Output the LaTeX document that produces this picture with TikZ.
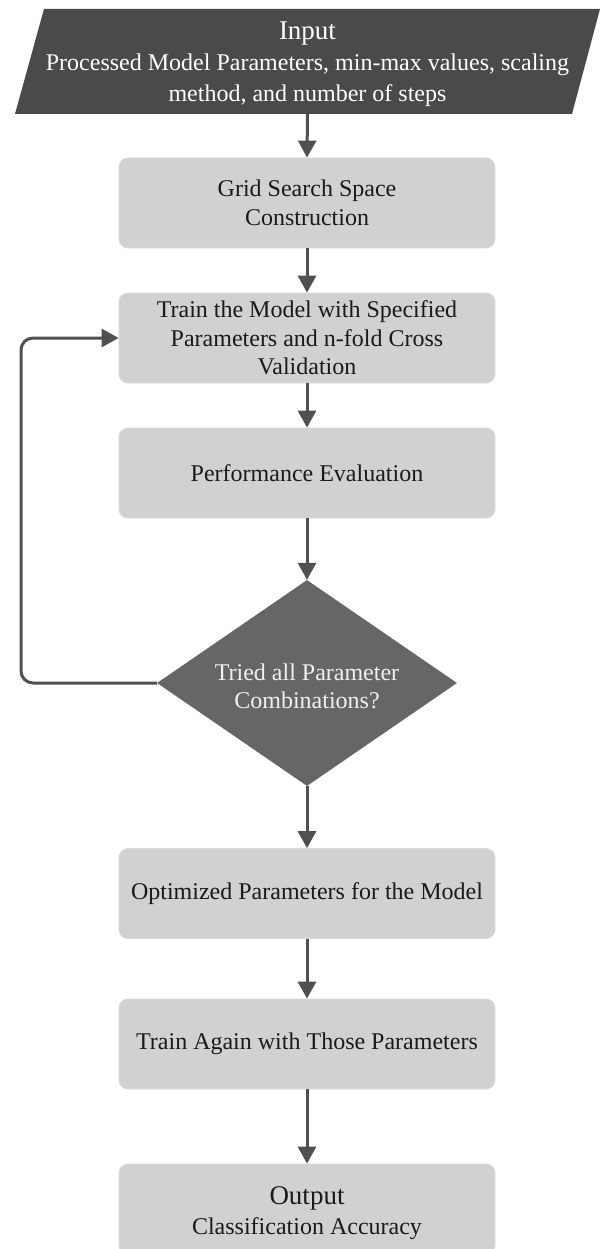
\documentclass[tikz,border=0pt]{standalone}
\usepackage{fontspec}
\setmainfont{Liberation Serif}
\usetikzlibrary{shapes.geometric,arrows.meta}

\definecolor{darkfill}{HTML}{4A4A4A}
\definecolor{decfill}{HTML}{666666}
\definecolor{boxfill}{HTML}{D1D1D1}
\definecolor{boxedge}{HTML}{DADADA}
\definecolor{arrowcol}{HTML}{505050}
\definecolor{inktext}{HTML}{1A1A1A}

\tikzset{
  stepbox/.style={rectangle, rounded corners=9pt, fill=boxfill, draw=boxedge,
    line width=0.8pt, minimum width=376pt, minimum height=90pt,
    inner sep=0pt, align=center, text=inktext,
    font=\fontsize{24}{28.5}\selectfont},
  decision/.style={diamond, fill=decfill, draw=none, minimum width=300pt,
    minimum height=206pt, inner sep=0pt},
  flow/.style={draw=arrowcol, line width=3pt,
    -{Triangle[length=17pt,width=18pt]}},
}

\begin{document}
\begin{tikzpicture}[x=1pt,y=-1pt]
\useasboundingbox (0,0) rectangle (607,1249);

% input parallelogram
\fill[darkfill] (44,9) -- (600,9) -- (572,114) -- (15,114) -- cycle;
\node[rectangle, minimum width=500pt, minimum height=99pt, inner sep=0pt,
      align=center, text=white, font=\fontsize{24}{31}\selectfont]
  (input) at (307.5,64.5)
  {{\fontsize{27}{31}\selectfont Input}\\
   Processed Model Parameters, min-max values, scaling\\
   method, and number of steps};

% process steps
\node[stepbox] (grid)  at (307,203)  {Grid Search Space\\Construction};
\node[stepbox] (train) at (307,338)  {Train the Model with Specified\\Parameters and n-fold Cross\\Validation};
\node[stepbox] (perf)  at (307,473)  {Performance Evaluation};

% decision
\node[decision] (dec) at (307,683) {};
\node[align=center, text=white!94!black, font=\fontsize{24}{28}\selectfont]
  (dectext) at ([yshift=-3pt]dec.center) {Tried all Parameter\\Combinations?};

\node[stepbox] (opt)   at (307,893.5) {Optimized Parameters for the Model};
\node[stepbox] (again) at (307,1044)  {Train Again with Those Parameters};
\node[stepbox] (out)   at (307,1209)  {};
\node[align=center, text=inktext, inner sep=0pt,
      font=\fontsize{24}{30}\selectfont]
  (outtext) at ([yshift=-4pt]out.center)
  {{\fontsize{27}{30}\selectfont Output}\\
   Classification Accuracy};

% connectors
\draw[flow] (input.south) -- (grid.north);
\draw[flow] (grid.south)  -- (train.north);
\draw[flow] (train.south) -- (perf.north);
\draw[flow] (perf.south)  -- (dec.north);
\draw[flow] (dec.south)   -- (opt.north);
\draw[flow] (opt.south)   -- (again.north);
\draw[flow] (again.south) -- (out.north);

% loop back for the next parameter combination
\coordinate (loopx) at (21,0);
\draw[flow, rounded corners=12pt] (dec.west) -- (dec.west -| loopx) |- (train.west);
\end{tikzpicture}
\end{document}
